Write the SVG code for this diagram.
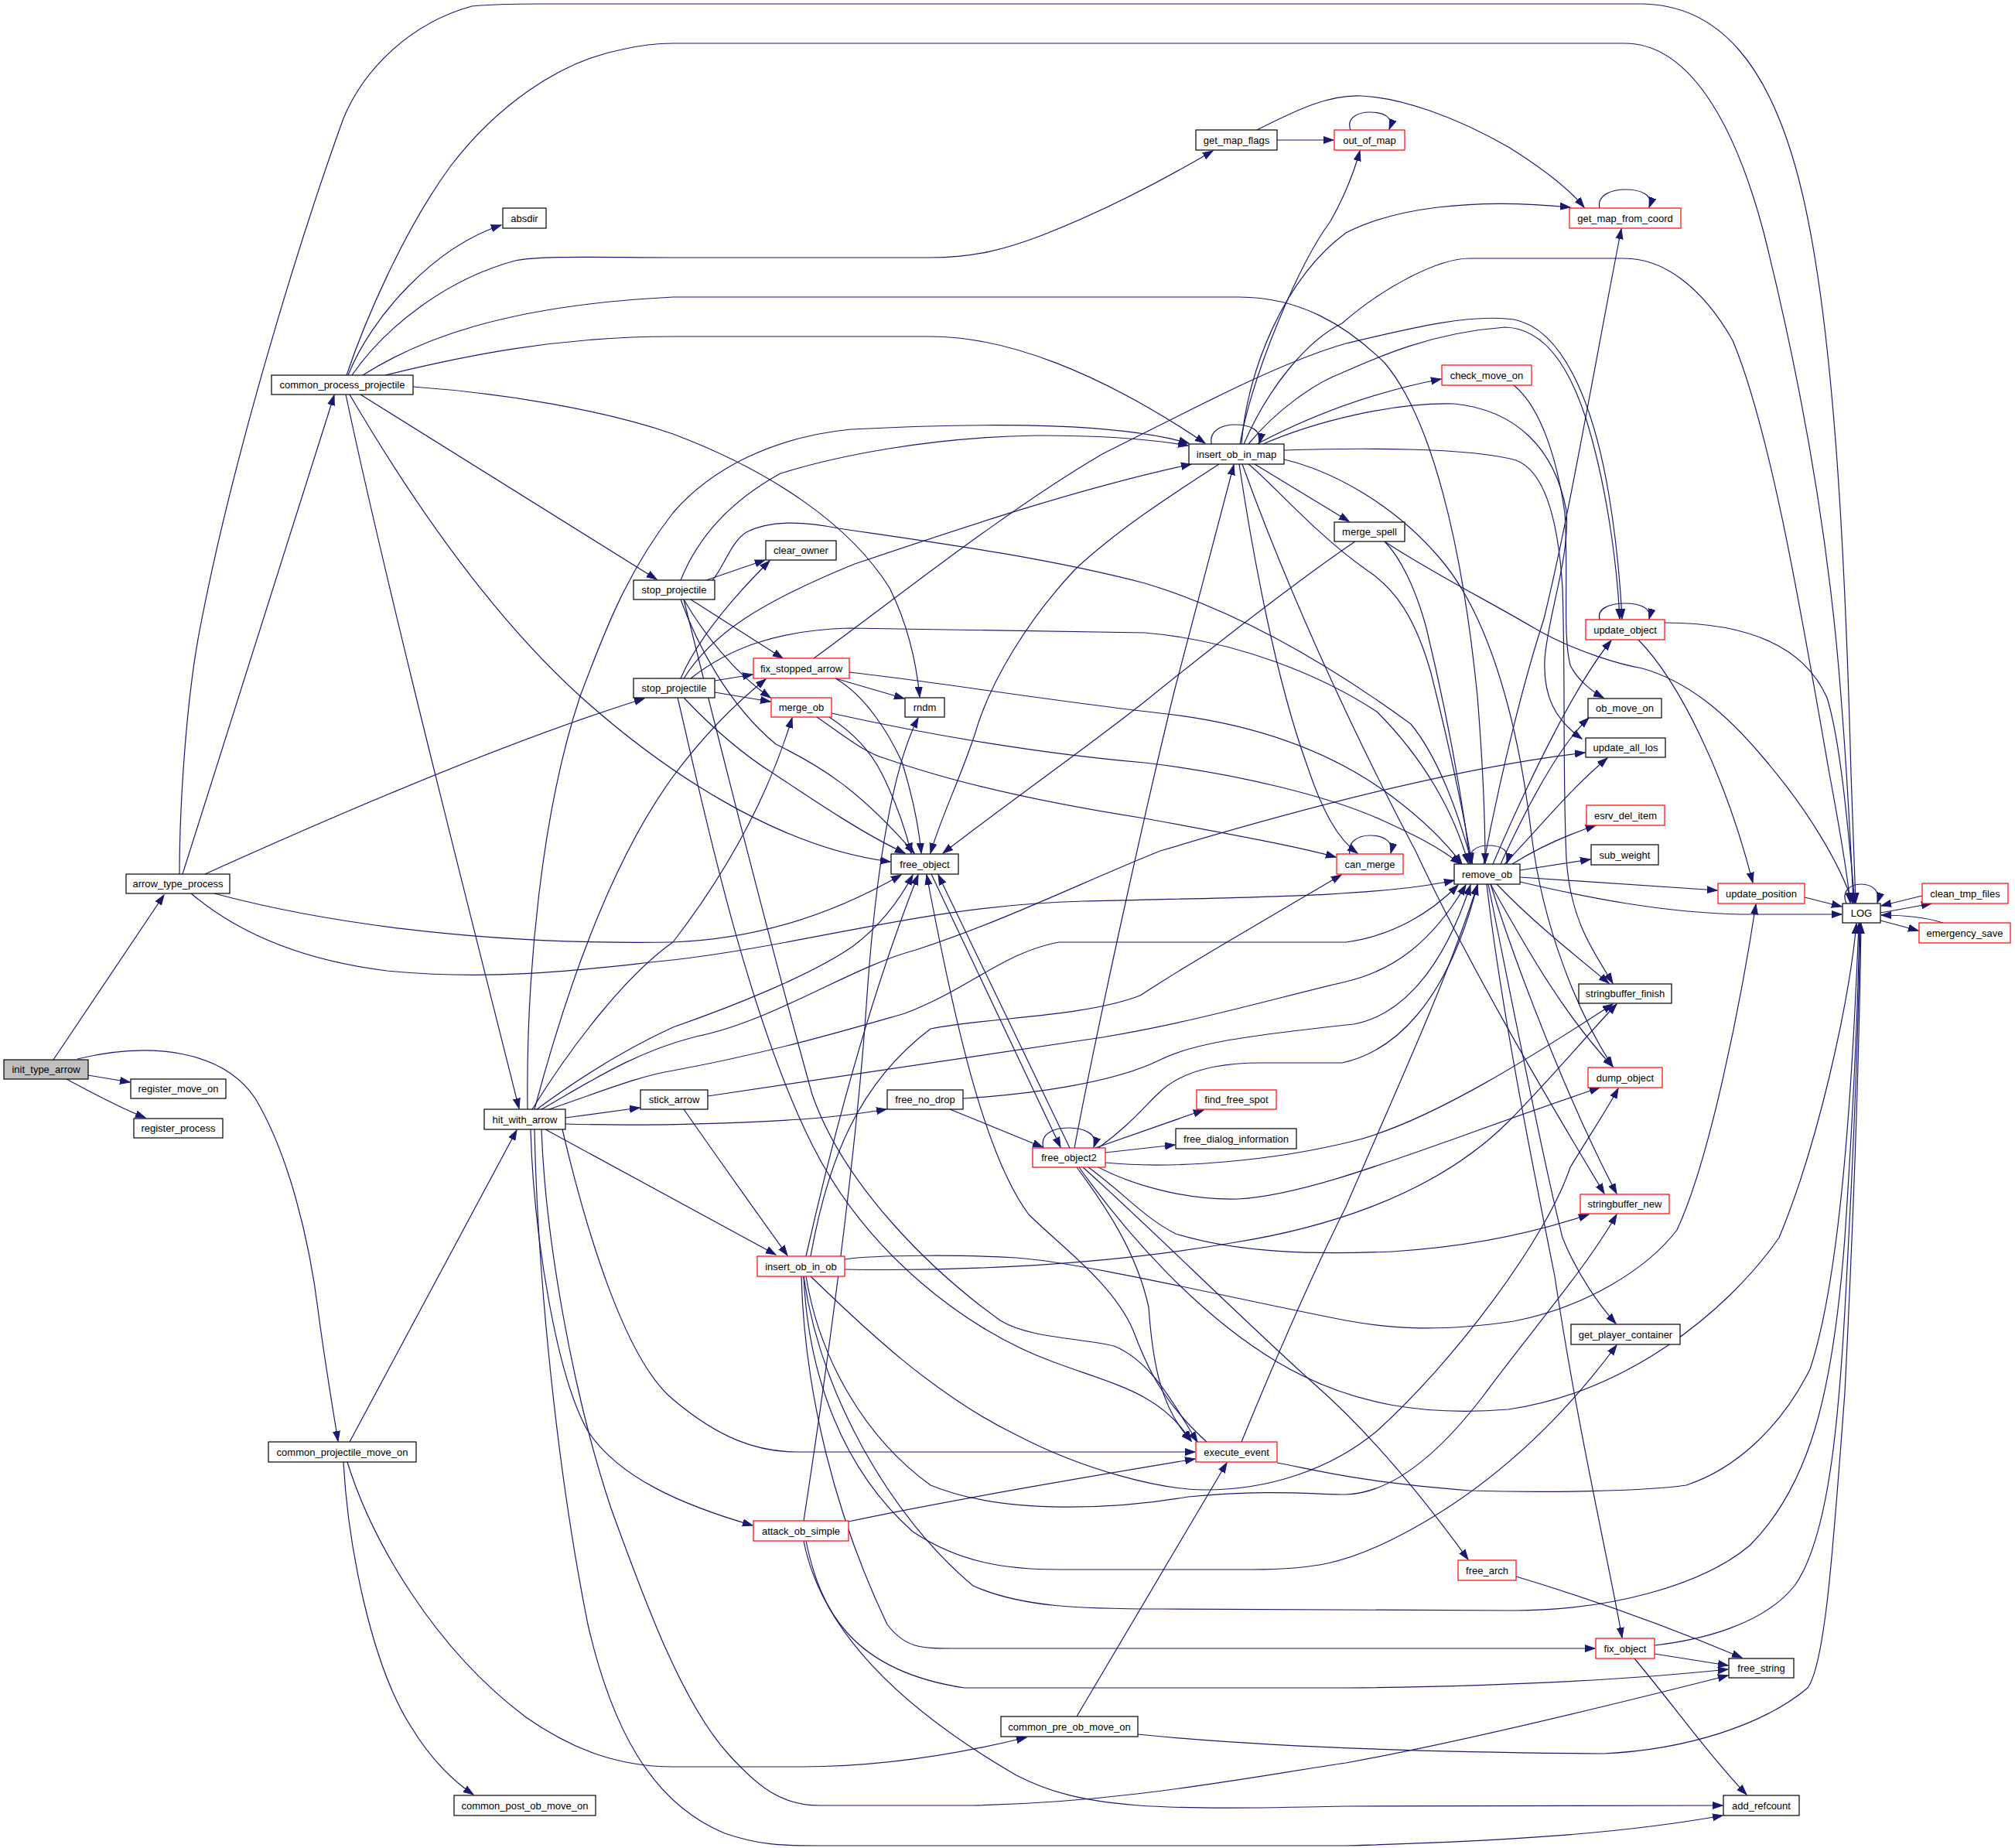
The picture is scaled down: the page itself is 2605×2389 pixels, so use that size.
<svg xmlns="http://www.w3.org/2000/svg" width="2605" height="2389" viewBox="0 0 2605 2389">
<style>
.n rect{fill:#fff;stroke:#000;stroke-width:1.2}
.n.r rect{stroke:#ff0000}
.n.g rect{fill:#bfbfbf}
.n text{font-family:"Liberation Sans",Arial,sans-serif;font-size:13px;text-anchor:middle;fill:#000}
#edges path{fill:none;stroke:#191970;stroke-width:1.2;marker-end:url(#a)}
</style>
<defs>
<marker id="a" markerWidth="14" markerHeight="11" refX="13" refY="5.5" orient="auto" markerUnits="userSpaceOnUse"><path d="M0,1 L13,5.5 L0,10 z" fill="#191970" stroke="#191970" stroke-width="1"/></marker>
</defs>
<rect width="2605" height="2389" fill="#fff"/>
<g id="edges">
<path d="M69,1370 L212,1157"/>
<path d="M114,1390 L168,1399"/>
<path d="M86,1395 C120,1413 150,1430 188,1445"/>
<path d="M100,1369 C200,1345 290,1360 330,1420 C372,1490 400,1600 412,1700 C420,1760 430,1820 437,1863"/>
<path d="M236,1130 L432,511"/>
<path d="M232,1130 C232,1050 240,900 261,800 C300,600 380,330 444,153 C470,90 530,30 610,8 C640,5 670,5 700,5 L2120,5 C2220,5 2290,80 2330,250 C2370,420 2385,700 2393,1000 C2396,1080 2398,1130 2399,1167"/>
<path d="M265,1130 C420,1060 650,960 833,903"/>
<path d="M277,1155 C400,1188 600,1222 870,1218 C980,1214 1080,1180 1165,1131"/>
<path d="M247,1155 C300,1200 380,1240 500,1255 C650,1270 780,1250 870,1241 C1050,1220 1200,1170 1400,1165 C1600,1160 1780,1160 1880,1138"/>
<path d="M450,485 C480,410 560,320 648,291"/>
<path d="M448,485 C470,420 520,300 583,214 C640,140 720,80 804,64 C830,58 850,56 870,56 L2100,56 C2180,56 2240,150 2280,300 C2330,500 2365,700 2380,900 C2388,1000 2393,1100 2396,1167"/>
<path d="M455,485 C500,420 580,360 666,337 C700,330 780,333 870,333 L1203,333 C1260,333 1300,322 1345,305 C1430,272 1500,235 1568,195"/>
<path d="M498,485 C600,460 720,435 870,435 L1203,435 C1300,435 1420,480 1558,573"/>
<path d="M469,485 C540,440 650,395 870,384 L1602,384 C1680,384 1740,420 1790,469 C1850,540 1890,700 1910,900 C1918,1000 1920,1060 1920,1116"/>
<path d="M534,500 C650,508 780,530 870,561 C1000,610 1100,680 1150,760 C1175,810 1185,860 1189,901"/>
<path d="M466,510 L849,749"/>
<path d="M447,510 C500,760 600,1150 671,1433"/>
<path d="M452,510 C540,660 640,800 750,900 C850,990 1000,1095 1151,1114"/>
<path d="M913,750 L989,724"/>
<path d="M880,750 C900,700 940,650 1009,612 C1080,590 1200,565 1342,563 C1420,563 1490,568 1536,576"/>
<path d="M921,750 C935,735 945,700 965,688 C990,675 1030,672 1084,683 C1200,700 1350,720 1480,754 C1600,790 1720,860 1824,936 C1860,980 1885,1050 1903,1116"/>
<path d="M880,775 C900,830 940,910 1003,962 C1060,990 1110,1020 1182,1103"/>
<path d="M884,775 C910,820 950,870 996,902"/>
<path d="M893,775 L1012,851"/>
<path d="M884,775 C920,920 990,1200 1050,1415 C1090,1530 1200,1640 1293,1707 C1330,1730 1400,1730 1440,1740 C1490,1760 1520,1820 1548,1864"/>
<path d="M880,877 C900,830 940,780 995,725"/>
<path d="M884,877 C920,820 980,780 1105,729 C1250,680 1400,630 1540,600"/>
<path d="M893,877 C940,840 1000,815 1097,812 L1480,818 C1600,828 1710,874 1780,920 C1840,980 1880,1050 1898,1116"/>
<path d="M924,880 L973,872"/>
<path d="M924,895 L996,907"/>
<path d="M884,902 C920,940 960,975 1000,1000 C1060,1040 1120,1080 1170,1103"/>
<path d="M876,902 C900,1000 960,1300 1050,1480 C1120,1620 1250,1720 1360,1760 C1440,1790 1500,1800 1540,1863"/>
<path d="M1052,851 C1150,780 1300,660 1425,587 C1540,530 1650,470 1740,444 C1820,425 1900,405 1957,413 C2020,425 2060,520 2080,640 C2090,700 2095,760 2097,800"/>
<path d="M1080,877 L1169,903"/>
<path d="M1080,877 C1120,900 1150,950 1166,985 C1180,1030 1188,1070 1191,1103"/>
<path d="M1098,869 C1200,880 1350,905 1500,922 C1620,935 1720,970 1800,1030 C1840,1060 1870,1090 1890,1117"/>
<path d="M1075,922 C1200,950 1350,975 1480,986 C1600,1000 1720,1030 1786,1060 C1830,1080 1860,1095 1888,1117"/>
<path d="M1056,927 C1090,950 1120,975 1146,981 C1200,1000 1300,1030 1480,1058 C1600,1080 1680,1095 1727,1108"/>
<path d="M1072,927 C1100,945 1125,970 1140,1000 C1160,1040 1170,1070 1178,1103"/>
<path d="M1603,574 C1620,480 1680,340 1720,286 C1735,260 1750,225 1758,195"/>
<path d="M1605,574 C1612,480 1660,360 1740,301 C1800,270 1900,255 2030,268"/>
<path d="M1608,574 C1640,500 1690,440 1735,418 C1790,370 1860,334 1900,334 L2100,334 C2150,334 2200,370 2240,440 C2290,560 2330,800 2365,1000 C2380,1080 2388,1130 2392,1167"/>
<path d="M1614,574 C1650,530 1700,495 1735,482 C1780,462 1850,430 1946,423 C2000,425 2030,480 2050,540 C2075,620 2090,720 2094,800"/>
<path d="M1625,574 C1680,545 1760,510 1863,490"/>
<path d="M1660,582 C1750,579 1900,578 1960,595 C2000,610 2015,680 2020,760 C2024,880 2020,1000 2025,1110 C2030,1190 2060,1230 2085,1271"/>
<path d="M1660,594 C1720,608 1800,650 1860,720 C1930,800 1965,950 1980,1080 C1995,1200 2040,1310 2085,1379"/>
<path d="M1633,574 C1700,545 1800,520 1880,522 C1960,530 2010,580 2025,660 C2030,720 2000,800 1997,853 C1995,900 2010,930 2045,955"/>
<path d="M1622,600 L1744,674"/>
<path d="M1614,600 C1640,620 1700,690 1767,737 C1805,762 1830,800 1850,870 C1870,950 1890,1040 1903,1116"/>
<path d="M1606,600 C1660,750 1740,930 1830,1100 C1900,1250 2000,1420 2074,1543"/>
<path d="M1602,600 C1620,720 1650,880 1690,990 C1710,1050 1730,1085 1755,1103"/>
<path d="M1576,600 C1530,630 1450,680 1390,736 C1330,800 1280,880 1260,950 C1240,1010 1215,1060 1203,1103"/>
<path d="M1566,574 C1563,556 1580,549 1597,549 C1616,549 1632,556 1628,573"/>
<path d="M1651,181 L1724,181"/>
<path d="M1625,168 C1680,140 1720,122 1760,124 C1810,126 1880,150 1950,190 C1990,215 2025,240 2048,268"/>
<path d="M1746,168 C1740,152 1756,145 1771,145 C1790,145 1802,152 1796,167"/>
<path d="M2068,269 C2064,252 2084,245 2101,245 C2122,245 2138,252 2132,268"/>
<path d="M1957,498 C1990,525 2012,587 2023,663 C2028,750 2020,820 2030,860 C2040,880 2060,895 2073,902"/>
<path d="M1790,700 C1850,740 1930,780 1980,810 C2040,845 2100,860 2123,864 C2180,880 2230,920 2280,980 C2340,1050 2380,1120 2395,1167"/>
<path d="M1752,700 C1700,735 1600,810 1480,907 C1400,970 1300,1040 1219,1103"/>
<path d="M1790,700 C1810,720 1830,760 1844,812 C1870,920 1890,1030 1901,1116"/>
<path d="M1745,1104 C1741,1088 1757,1080 1771,1080 C1789,1080 1802,1088 1798,1103"/>
<path d="M1900,1117 C1896,1100 1910,1093 1924,1093 C1942,1093 1953,1100 1948,1116"/>
<path d="M1918,1117 C1940,1000 1970,880 1996,800 C2030,660 2060,480 2096,296"/>
<path d="M1930,1117 C1980,1000 2040,880 2083,828"/>
<path d="M1940,1117 C1980,1030 2020,960 2054,928"/>
<path d="M1945,1117 C1990,1070 2030,1020 2078,980"/>
<path d="M1955,1117 C1990,1095 2030,1078 2063,1067"/>
<path d="M1965,1125 L2056,1111"/>
<path d="M1965,1134 L2220,1151"/>
<path d="M1965,1140 C2050,1160 2150,1180 2250,1182 L2381,1182"/>
<path d="M1935,1143 C1980,1190 2030,1230 2080,1271"/>
<path d="M1927,1143 C1970,1220 2020,1310 2085,1379"/>
<path d="M1927,1143 C1960,1250 2030,1430 2090,1543"/>
<path d="M1924,1143 C1950,1270 1990,1480 2020,1600 C2040,1650 2070,1690 2089,1711"/>
<path d="M1922,1143 C1940,1300 1980,1500 2010,1650 C2040,1850 2080,2020 2097,2117"/>
<path d="M1605,1864 C1660,1730 1700,1640 1740,1560 C1800,1420 1870,1270 1910,1144"/>
<path d="M1651,1891 C1700,1900 1750,1915 1901,1927 C2000,1930 2123,1928 2180,1920 C2240,1900 2300,1850 2340,1770 C2380,1650 2395,1400 2403,1194"/>
<path d="M1560,1864 C1500,1810 1480,1760 1465,1720 C1440,1660 1370,1610 1330,1570 C1270,1490 1230,1300 1198,1131"/>
<path d="M1204,1130 L1371,1483"/>
<path d="M1383,1484 L1213,1131"/>
<path d="M1349,1484 C1344,1466 1362,1458 1381,1458 C1402,1458 1420,1466 1414,1483"/>
<path d="M1389,1484 C1420,1320 1480,1050 1518,894 C1550,770 1575,680 1595,601"/>
<path d="M1416,1484 L1556,1435"/>
<path d="M1429,1490 L1519,1480"/>
<path d="M1420,1484 C1460,1455 1480,1430 1496,1415 C1520,1390 1560,1374 1630,1374 L1735,1374 C1800,1360 1870,1300 1910,1144"/>
<path d="M1429,1503 C1520,1512 1650,1500 1750,1475 C1850,1450 1990,1360 2085,1298"/>
<path d="M1420,1509 C1460,1530 1530,1552 1600,1550 C1700,1545 1850,1480 2068,1406"/>
<path d="M1407,1509 C1450,1540 1480,1575 1520,1595 C1600,1620 1700,1622 1800,1618 C1900,1612 1980,1595 2054,1570"/>
<path d="M1400,1509 C1480,1580 1600,1700 1700,1790 C1780,1860 1850,1950 1898,2016"/>
<path d="M1392,1509 C1430,1560 1470,1620 1485,1690 C1490,1760 1500,1820 1540,1863"/>
<path d="M1395,1509 C1460,1600 1550,1700 1650,1760 C1750,1820 1850,1830 1950,1822 C2100,1800 2230,1700 2300,1600 C2350,1480 2390,1300 2400,1194"/>
<path d="M1228,1434 L1348,1483"/>
<path d="M1245,1420 C1330,1415 1440,1400 1500,1370 C1540,1350 1600,1340 1750,1324 C1800,1315 1860,1270 1901,1144"/>
<path d="M884,1434 C930,1500 980,1570 1018,1623"/>
<path d="M915,1417 C1000,1405 1200,1375 1425,1341 C1550,1320 1650,1290 1740,1269 C1800,1255 1850,1220 1895,1144"/>
<path d="M682,1434 C680,1260 700,1050 750,900 C780,820 810,740 870,663 C920,605 1000,565 1100,555 C1300,545 1450,548 1537,573"/>
<path d="M691,1434 C740,1250 800,1100 870,1004 C910,950 950,910 990,878"/>
<path d="M688,1434 C740,1350 810,1260 870,1218 C930,1140 990,1040 1024,928"/>
<path d="M694,1434 C740,1400 800,1360 870,1328 C950,1300 1050,1260 1103,1223 C1140,1195 1165,1160 1180,1131"/>
<path d="M700,1434 C760,1400 820,1360 900,1340 C1000,1320 1100,1250 1184,1228 C1300,1190 1400,1140 1500,1100 C1700,1040 1900,990 2049,973"/>
<path d="M710,1434 C780,1410 830,1390 870,1384 C1000,1360 1100,1330 1170,1310 C1250,1280 1300,1230 1369,1218 L1740,1218 C1800,1210 1850,1180 1885,1144"/>
<path d="M731,1445 L827,1432"/>
<path d="M731,1453 C800,1455 900,1455 1036,1447 C1080,1444 1110,1440 1146,1434"/>
<path d="M705,1460 L1003,1622"/>
<path d="M686,1460 C690,1600 720,1780 760,1850 C800,1910 880,1945 973,1972"/>
<path d="M727,1460 C760,1600 810,1760 870,1809 C930,1860 980,1877 1030,1877 L1545,1877"/>
<path d="M700,1460 C705,1600 740,1800 790,1950 C830,2060 880,2200 942,2268 C980,2310 1010,2334 1060,2334 L1258,2334 C1450,2330 1600,2300 1740,2279 C1900,2250 2100,2200 2234,2166"/>
<path d="M691,1460 C695,1650 720,1900 760,2100 C790,2230 840,2330 937,2370 C980,2385 1010,2386 1060,2386 L1740,2386 C1950,2380 2100,2370 2227,2347"/>
<path d="M452,1864 L668,1461"/>
<path d="M449,1890 C480,1990 560,2130 680,2220 C740,2262 800,2284 870,2284 L1036,2284 C1150,2284 1250,2265 1327,2246"/>
<path d="M444,1890 C450,2000 480,2150 530,2230 C560,2280 590,2305 612,2320"/>
<path d="M1392,2219 L1586,1891"/>
<path d="M1471,2242 C1600,2255 1800,2265 2073,2267 C2180,2262 2280,2230 2337,2182 C2360,2150 2370,2000 2385,1800 C2395,1600 2403,1400 2406,1194"/>
<path d="M1042,1624 C1070,1500 1120,1300 1187,1131"/>
<path d="M1048,1624 C1070,1500 1110,1400 1203,1330 C1280,1315 1400,1315 1474,1287 C1530,1250 1600,1210 1734,1131"/>
<path d="M1092,1628 C1130,1622 1250,1622 1314,1626 C1400,1632 1600,1680 1740,1707 C1800,1718 1860,1722 1957,1708 C2050,1690 2130,1640 2168,1590 C2210,1500 2250,1300 2270,1169"/>
<path d="M1092,1641 C1200,1643 1400,1640 1591,1607 C1700,1590 1850,1550 1950,1450 C2000,1400 2050,1340 2090,1298"/>
<path d="M1048,1650 C1100,1700 1200,1800 1314,1855 C1400,1900 1500,1926 1558,1926 C1640,1926 1720,1900 1780,1850 C1880,1760 2000,1600 2030,1509 C2060,1460 2080,1430 2092,1407"/>
<path d="M1042,1650 C1060,1760 1120,1860 1203,1920 C1300,1960 1450,1950 1536,1935 C1640,1925 1700,1932 1740,1932 C1800,1930 1860,1880 1918,1804 C1980,1720 2050,1640 2090,1570"/>
<path d="M1039,1650 C1045,1780 1090,1900 1180,1980 C1240,2020 1300,2029 1369,2029 L1619,2029 C1700,2029 1740,2020 1800,1990 C1900,1940 2000,1860 2090,1739"/>
<path d="M1039,1650 C1060,1800 1150,1960 1258,2050 C1320,2078 1400,2080 1500,2080 L1957,2082 C2080,2082 2200,2050 2262,1998 C2340,1920 2370,1800 2385,1600 C2395,1450 2402,1300 2404,1194"/>
<path d="M1036,1650 C1040,1800 1080,1960 1147,2100 C1170,2130 1190,2131 1230,2131 L2062,2131"/>
<path d="M1097,1967 C1200,1945 1400,1910 1545,1886"/>
<path d="M1039,1966 C1080,1700 1110,1450 1120,1300 C1130,1150 1150,1000 1187,928"/>
<path d="M1039,1992 C1060,2100 1150,2200 1314,2295 C1400,2340 1500,2340 1740,2335 L2227,2334"/>
<path d="M1042,1992 C1060,2080 1100,2160 1247,2182 L1740,2182 C1950,2180 2100,2172 2234,2158"/>
<path d="M1960,2038 C2050,2065 2150,2100 2252,2143"/>
<path d="M2139,2127 C2200,2120 2280,2100 2320,2050 C2370,1980 2380,1800 2390,1600 C2398,1450 2403,1300 2405,1194"/>
<path d="M2139,2138 L2234,2153"/>
<path d="M2113,2144 C2160,2200 2210,2270 2258,2320"/>
<path d="M2068,801 C2064,786 2082,780 2101,780 C2120,780 2136,786 2132,800"/>
<path d="M2152,805 C2250,805 2330,830 2362,902 C2380,960 2390,1080 2398,1167"/>
<path d="M2118,827 C2170,880 2230,1000 2266,1141"/>
<path d="M2333,1160 L2381,1172"/>
<path d="M2387,1168 C2380,1152 2392,1143 2406,1143 C2420,1143 2432,1152 2427,1167"/>
<path d="M2431,1180 C2455,1176 2475,1172 2497,1168"/>
<path d="M2485,1158 L2432,1171"/>
<path d="M2431,1190 L2480,1203"/>
<path d="M2512,1193 C2490,1186 2460,1183 2432,1183"/>
</g>
<g id="node-init_type_arrow" class="n g"><rect x="5" y="1370" width="109" height="25"/><text x="59.5" y="1387">init_type_arrow</text></g>
<g id="node-arrow_type_process" class="n"><rect x="163" y="1130" width="134" height="25"/><text x="230" y="1147">arrow_type_process</text></g>
<g id="node-register_move_on" class="n"><rect x="169" y="1395" width="123" height="25"/><text x="230.5" y="1412">register_move_on</text></g>
<g id="node-register_process" class="n"><rect x="173" y="1446" width="115" height="25"/><text x="230.5" y="1463">register_process</text></g>
<g id="node-common_process_projectile" class="n"><rect x="351" y="485" width="183" height="25"/><text x="442.5" y="502">common_process_projectile</text></g>
<g id="node-common_projectile_move_on" class="n"><rect x="347" y="1864" width="191" height="26"/><text x="442.5" y="1881.5">common_projectile_move_on</text></g>
<g id="node-absdir" class="n"><rect x="650" y="269" width="56" height="26"/><text x="678" y="286.5">absdir</text></g>
<g id="node-hit_with_arrow" class="n"><rect x="626" y="1434" width="105" height="26"/><text x="678.5" y="1451.5">hit_with_arrow</text></g>
<g id="node-common_post_ob_move_on" class="n"><rect x="587" y="2321" width="183" height="26"/><text x="678.5" y="2338.5">common_post_ob_move_on</text></g>
<g id="node-stop_projectile_1" class="n"><rect x="819" y="750" width="105" height="25"/><text x="871.5" y="767">stop_projectile</text></g>
<g id="node-stop_projectile_2" class="n"><rect x="819" y="877" width="105" height="25"/><text x="871.5" y="894">stop_projectile</text></g>
<g id="node-stick_arrow" class="n"><rect x="828" y="1409" width="87" height="25"/><text x="871.5" y="1426">stick_arrow</text></g>
<g id="node-clear_owner" class="n"><rect x="990" y="699" width="91" height="25"/><text x="1035.5" y="716">clear_owner</text></g>
<g id="node-fix_stopped_arrow" class="n r"><rect x="974" y="851" width="124" height="26"/><text x="1036" y="868.5">fix_stopped_arrow</text></g>
<g id="node-merge_ob" class="n r"><rect x="997" y="902" width="78" height="25"/><text x="1036" y="919">merge_ob</text></g>
<g id="node-insert_ob_in_ob" class="n r"><rect x="979" y="1624" width="113" height="26"/><text x="1035.5" y="1641.5">insert_ob_in_ob</text></g>
<g id="node-attack_ob_simple" class="n r"><rect x="974" y="1966" width="123" height="26"/><text x="1035.5" y="1983.5">attack_ob_simple</text></g>
<g id="node-rndm" class="n"><rect x="1170" y="902" width="51" height="25"/><text x="1195.5" y="919">rndm</text></g>
<g id="node-free_object" class="n"><rect x="1152" y="1104" width="87" height="26"/><text x="1195.5" y="1121.5">free_object</text></g>
<g id="node-free_no_drop" class="n"><rect x="1147" y="1409" width="98" height="25"/><text x="1196" y="1426">free_no_drop</text></g>
<g id="node-free_object2" class="n r"><rect x="1335" y="1484" width="94" height="25"/><text x="1382" y="1501">free_object2</text></g>
<g id="node-common_pre_ob_move_on" class="n"><rect x="1294" y="2219" width="177" height="26"/><text x="1382.5" y="2236.5">common_pre_ob_move_on</text></g>
<g id="node-get_map_flags" class="n"><rect x="1546" y="168" width="105" height="26"/><text x="1598.5" y="185.5">get_map_flags</text></g>
<g id="node-insert_ob_in_map" class="n"><rect x="1537" y="574" width="123" height="26"/><text x="1598.5" y="591.5">insert_ob_in_map</text></g>
<g id="node-execute_event" class="n r"><rect x="1546" y="1864" width="105" height="26"/><text x="1598.5" y="1881.5">execute_event</text></g>
<g id="node-find_free_spot" class="n r"><rect x="1547" y="1409" width="103" height="25"/><text x="1598.5" y="1426">find_free_spot</text></g>
<g id="node-free_dialog_information" class="n"><rect x="1520" y="1459" width="156" height="26"/><text x="1598" y="1476.5">free_dialog_information</text></g>
<g id="node-out_of_map" class="n r"><rect x="1725" y="168" width="91" height="26"/><text x="1770.5" y="185.5">out_of_map</text></g>
<g id="node-merge_spell" class="n"><rect x="1725" y="675" width="91" height="25"/><text x="1770.5" y="692">merge_spell</text></g>
<g id="node-check_move_on" class="n r"><rect x="1864" y="472" width="116" height="26"/><text x="1922" y="489.5">check_move_on</text></g>
<g id="node-can_merge" class="n r"><rect x="1728" y="1104" width="86" height="26"/><text x="1771" y="1121.5">can_merge</text></g>
<g id="node-remove_ob" class="n"><rect x="1880" y="1117" width="85" height="26"/><text x="1922.5" y="1134.5">remove_ob</text></g>
<g id="node-free_arch" class="n r"><rect x="1885" y="2017" width="75" height="26"/><text x="1922.5" y="2034.5">free_arch</text></g>
<g id="node-get_map_from_coord" class="n r"><rect x="2029" y="269" width="144" height="26"/><text x="2101" y="286.5">get_map_from_coord</text></g>
<g id="node-update_object" class="n r"><rect x="2050" y="801" width="102" height="26"/><text x="2101" y="818.5">update_object</text></g>
<g id="node-ob_move_on" class="n"><rect x="2053" y="903" width="95" height="25"/><text x="2100.5" y="920">ob_move_on</text></g>
<g id="node-update_all_los" class="n"><rect x="2050" y="954" width="103" height="25"/><text x="2101.5" y="971">update_all_los</text></g>
<g id="node-esrv_del_item" class="n r"><rect x="2051" y="1041" width="101" height="26"/><text x="2101.5" y="1058.5">esrv_del_item</text></g>
<g id="node-sub_weight" class="n"><rect x="2057" y="1092" width="87" height="26"/><text x="2100.5" y="1109.5">sub_weight</text></g>
<g id="node-stringbuffer_finish" class="n"><rect x="2041" y="1272" width="120" height="25"/><text x="2101" y="1289">stringbuffer_finish</text></g>
<g id="node-dump_object" class="n r"><rect x="2053" y="1380" width="96" height="26"/><text x="2101" y="1397.5">dump_object</text></g>
<g id="node-stringbuffer_new" class="n r"><rect x="2043" y="1544" width="115" height="25"/><text x="2100.5" y="1561">stringbuffer_new</text></g>
<g id="node-get_player_container" class="n"><rect x="2031" y="1712" width="141" height="26"/><text x="2101.5" y="1729.5">get_player_container</text></g>
<g id="node-fix_object" class="n r"><rect x="2063" y="2118" width="76" height="26"/><text x="2101" y="2135.5">fix_object</text></g>
<g id="node-update_position" class="n r"><rect x="2221" y="1142" width="112" height="26"/><text x="2277" y="1159.5">update_position</text></g>
<g id="node-free_string" class="n"><rect x="2235" y="2144" width="84" height="25"/><text x="2277" y="2161">free_string</text></g>
<g id="node-add_refcount" class="n"><rect x="2228" y="2321" width="98" height="26"/><text x="2277" y="2338.5">add_refcount</text></g>
<g id="node-LOG" class="n"><rect x="2382" y="1168" width="49" height="25"/><text x="2406.5" y="1185">LOG</text></g>
<g id="node-clean_tmp_files" class="n r"><rect x="2485" y="1142" width="111" height="26"/><text x="2540.5" y="1159.5">clean_tmp_files</text></g>
<g id="node-emergency_save" class="n r"><rect x="2481" y="1193" width="118" height="26"/><text x="2540" y="1210.5">emergency_save</text></g>
</svg>
